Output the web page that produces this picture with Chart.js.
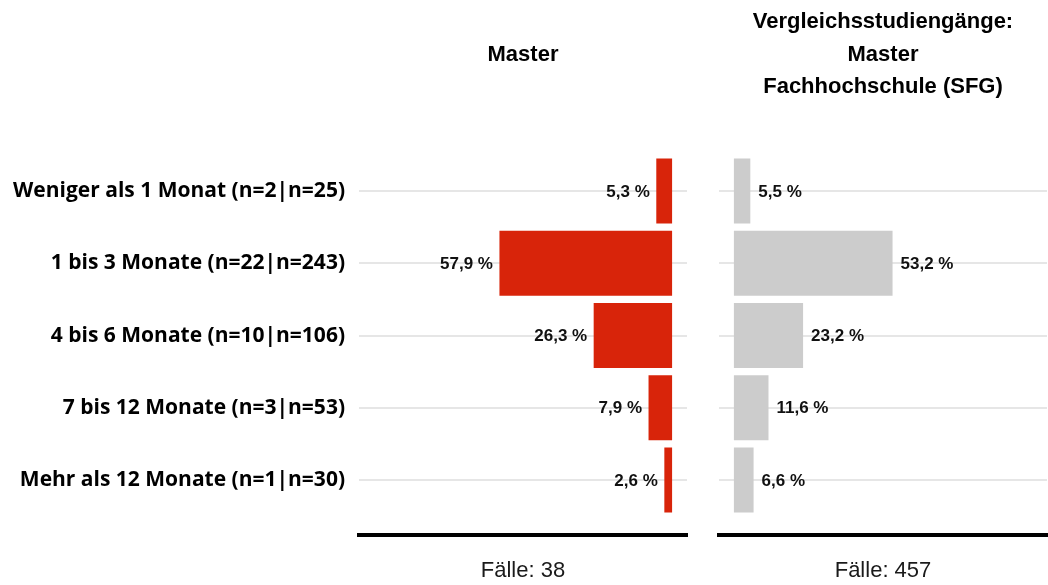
<!DOCTYPE html>
<html lang="de">
<head>
<meta charset="utf-8">
<title>Dauer der Stellensuche</title>
<script src="https://cdn.jsdelivr.net/npm/chart.js@4.4.1/dist/chart.umd.min.js"></script>
<style>
  html, body { margin: 0; padding: 0; background: #ffffff; }
  #wrap { position: relative; width: 1048px; height: 585px; overflow: hidden; }
  #left { position: absolute; left: 0; top: 0; }
  #right { position: absolute; left: 703px; top: 0; }
</style>
</head>
<body>
<div id="wrap">
  <canvas id="left" width="703" height="585"></canvas>
  <canvas id="right" width="345" height="585"></canvas>
</div>
<script>
// Antwortkategorien (Zeilen von oben nach unten)
const categories = [
  'Weniger als 1 Monat (n=2|n=25)',
  '1 bis 3 Monate (n=22|n=243)',
  '4 bis 6 Monate (n=10|n=106)',
  '7 bis 12 Monate (n=3|n=53)',
  'Mehr als 12 Monate (n=1|n=30)'
];
// Anteile in Prozent
const masterValues = [5.3, 57.9, 26.3, 7.9, 2.6];
const vergleichValues = [5.5, 53.2, 23.2, 11.6, 6.6];
// Titel und Fallzahlen
const masterTitle = ['Master'];
const vergleichTitle = ['Vergleichsstudiengänge:', 'Master', 'Fachhochschule (SFG)'];
const masterCases = 'Fälle: 38';
const vergleichCases = 'Fälle: 457';

const RED = '#d8240a';
const GREY = '#cccccc';
const GRID = '#e6e6e6';
const SANS = '"Liberation Sans", Arial, Helvetica, sans-serif';
const LABEL_FONT = '"Open Sans", Lato, sans-serif';

// Zeilenpositionen: Kategorie i liegt bei y = i + 1
const Y_MIN = 0.4;
const Y_MAX = 5.76;
const TITLE_LINE = 32.56;
const PLOT_TOP = 147.65;

function fmt(v) {
  return v.toFixed(1).replace('.', ',') + ' %';
}

// Prozentwerte an die Balkenenden schreiben
const valueLabels = {
  id: 'valueLabels',
  afterDatasetsDraw(chart) {
    const ctx = chart.ctx;
    ctx.save();
    ctx.font = 'bold 17px ' + SANS;
    ctx.fillStyle = '#111111';
    ctx.textBaseline = 'middle';
    chart.data.datasets.forEach((ds, di) => {
      const meta = chart.getDatasetMeta(di);
      meta.data.forEach((bar, i) => {
        const dir = bar.x < bar.base ? -1 : 1;
        ctx.textAlign = dir < 0 ? 'right' : 'left';
        const gap = dir < 0 ? 6.5 : 8;
        ctx.fillText(fmt(ds.data[i].x), bar.x + dir * gap, bar.y + 1);
      });
    });
    ctx.restore();
  }
};

function rows(values) {
  return values.map((v, i) => ({ x: v, y: i + 1 }));
}

function makeChart(canvas, values, color, reversed, titleLines, titleTopPad, cases, showLabels) {
  const usedTitle = titleTopPad + titleLines.length * TITLE_LINE;
  return new Chart(canvas, {
    type: 'bar',
    data: {
      datasets: [{
        data: rows(values),
        backgroundColor: color,
        borderWidth: 0,
        categoryPercentage: 0.9,
        barPercentage: 1.0
      }]
    },
    options: {
      indexAxis: 'y',
      responsive: false,
      animation: false,
      devicePixelRatio: 1,
      layout: {
        padding: reversed ? { left: 0, right: 16, top: 0, bottom: 0 } : { left: 0, right: 1, top: 0, bottom: 0 }
      },
      plugins: {
        legend: { display: false },
        tooltip: { enabled: false },
        title: {
          display: true,
          fullSize: false,
          text: titleLines,
          color: '#000000',
          font: { family: SANS, size: 22, weight: 'bold', lineHeight: TITLE_LINE / 22 },
          padding: { top: titleTopPad, bottom: PLOT_TOP - usedTitle }
        }
      },
      scales: {
        x: {
          type: 'linear',
          min: -5,
          max: 105,
          reverse: reversed,
          grid: { display: false, drawTicks: false },
          border: { display: true, color: '#000000', width: 4 },
          ticks: { display: false },
          title: {
            display: true,
            text: cases,
            color: '#1a1a1a',
            font: { family: SANS, size: 22, weight: 'normal', lineHeight: 1.2 },
            padding: { top: 22.8, bottom: 0.8 }
          }
        },
        y: {
          type: 'linear',
          reverse: true,
          offset: false,
          min: Y_MIN,
          max: Y_MAX,
          afterBuildTicks(scale) {
            scale.ticks = categories.map((_, i) => ({ value: i + 1 }));
          },
          afterFit(scale) {
            scale.width = reversed ? 359 : 16;
          },
          grid: { display: true, offset: false, color: GRID, lineWidth: 2, drawTicks: false },
          border: { display: false },
          ticks: {
            display: showLabels,
            padding: 14,
            color: '#000000',
            font: { family: LABEL_FONT, size: 21, weight: 'bold' },
            callback: (v) => categories[v - 1]
          }
        }
      }
    },
    plugins: [valueLabels]
  });
}

makeChart(document.getElementById('left'), masterValues, RED, true, masterTitle, 38.3, masterCases, true);
makeChart(document.getElementById('right'), vergleichValues, GREY, false, vergleichTitle, 5.7, vergleichCases, false);
</script>
</body>
</html>
